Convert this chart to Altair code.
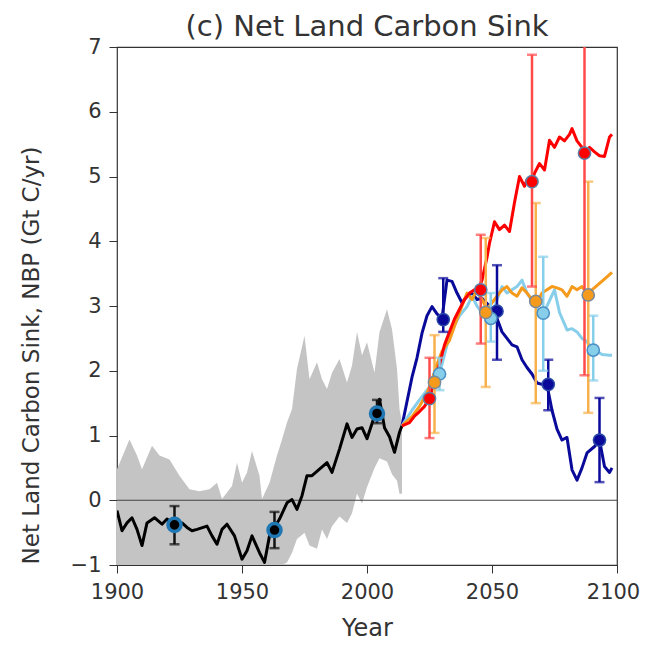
import altair as alt
import pandas as pd

# ---------------- data ----------------
title_text = "(c) Net Land Carbon Sink"

hist_year = [1900, 1902, 1904, 1906, 1908, 1910, 1912, 1915, 1918, 1920, 1923, 1926, 1928,
             1930, 1932, 1936, 1938, 1940, 1942, 1944, 1947, 1950, 1952, 1954, 1957, 1959,
             1961, 1963, 1965, 1968, 1970, 1972, 1974, 1976, 1978, 1981, 1984, 1986, 1989,
             1992, 1994, 1996, 1998, 2000, 2003, 2005, 2007, 2009, 2011, 2013, 2014]
hist_val = [-0.16, -0.47, -0.35, -0.27, -0.45, -0.70, -0.35, -0.27, -0.37, -0.29, -0.37, -0.35, -0.42,
            -0.47, -0.45, -0.40, -0.55, -0.68, -0.45, -0.37, -0.55, -0.91, -0.78, -0.55, -0.81, -0.96,
            -0.55, -0.42, -0.29, -0.04, 0.01, -0.14, 0.07, 0.38, 0.38, 0.48, 0.58, 0.43, 0.79,
            1.18, 0.97, 1.10, 1.12, 0.95, 1.30, 1.56, 1.12, 0.98, 0.74, 1.05, 1.15]

band_year = [1900, 1905, 1908, 1910, 1914, 1917, 1921, 1925, 1929, 1933, 1937, 1940, 1942, 1946,
             1948, 1950, 1952, 1954, 1957, 1958, 1961, 1964, 1966, 1968, 1970, 1972, 1975, 1977,
             1980, 1982, 1984, 1986, 1989, 1992, 1994, 1996, 1998, 2000, 2003, 2005, 2008, 2010,
             2012, 2013, 2014]
band_hi = [0.48, 0.94, 0.69, 0.48, 0.84, 0.69, 0.63, 0.38, 0.17, 0.14, 0.17, 0.27, 0.02, 0.22,
           0.58, 0.27, 0.43, 0.76, 0.38, 0.02, 0.27, 0.69, 0.94, 1.20, 1.41, 2.03, 2.54, 1.87,
           2.13, 1.87, 1.72, 1.97, 2.18, 1.82, 2.08, 2.60, 2.24, 2.44, 1.97, 2.60, 2.95, 2.64,
           2.03, 1.41, 1.20]
band_lo = [-1.5, -1.5, -1.5, -1.5, -1.5, -1.5, -1.5, -1.5, -1.5, -1.5, -1.5, -1.5, -1.5, -1.5,
           -1.5, -1.5, -1.5, -1.5, -1.5, -1.5, -1.5, -1.5, -1.5, -0.96, -0.81, -0.60, -0.50, -0.70,
           -0.75, -0.45, -0.60, -0.40, -0.25, -0.35, -0.20, 0.10, -0.05, 0.20, 0.50, 0.65, 0.60, 0.40,
           0.30, 0.10, 0.10]

hist_pt_year = [1923, 1963, 2004]
hist_pt_val = [-0.38, -0.46, 1.34]
hist_pt_lo = [-0.68, -0.74, 1.19]
hist_pt_hi = [-0.09, -0.18, 1.55]

red_year = [2014, 2017, 2019, 2021, 2023, 2025, 2027, 2029, 2031, 2033, 2035, 2037, 2039, 2041,
            2043, 2045, 2046, 2048, 2049, 2051, 2053, 2055, 2057, 2059, 2061, 2063, 2064, 2066,
            2067, 2069, 2071, 2073, 2075, 2077, 2079, 2081, 2082, 2084, 2086, 2087, 2089, 2091,
            2093, 2095, 2097, 2098]
red_val = [1.15, 1.20, 1.30, 1.37, 1.45, 1.57, 1.85, 2.10, 2.40, 2.60, 2.80, 2.95, 3.10, 3.20,
           3.25, 3.30, 3.40, 3.75, 3.97, 4.30, 4.18, 4.25, 4.15, 4.60, 5.00, 4.85, 4.95, 4.92,
           5.05, 5.20, 5.10, 5.56, 5.45, 5.61, 5.55, 5.65, 5.74, 5.55, 5.45, 5.36, 5.45, 5.38,
           5.32, 5.31, 5.61, 5.65]

orange_year = [2014, 2018, 2021, 2024, 2026, 2028, 2030, 2033, 2036, 2038, 2040, 2042, 2044, 2046,
               2048, 2050, 2052, 2054, 2056, 2058, 2060, 2062, 2064, 2066, 2068, 2070, 2072, 2074,
               2076, 2078, 2080, 2082, 2084, 2086, 2088, 2090, 2093, 2096, 2098]
orange_val = [1.15, 1.29, 1.45, 1.65, 1.86, 2.10, 2.30, 2.47, 2.80, 3.00, 3.20, 3.10, 3.25, 3.10,
              2.95, 3.05, 3.15, 3.25, 3.30, 3.20, 3.15, 3.28, 3.20, 3.10, 3.05, 3.20, 3.25, 3.30,
              3.28, 3.25, 3.15, 3.30, 3.25, 3.30, 3.20, 3.25, 3.35, 3.45, 3.52]

lblue_year = [2014, 2018, 2021, 2024, 2027, 2029, 2031, 2033, 2035, 2037, 2040, 2042, 2044, 2046,
              2048, 2050, 2052, 2054, 2056, 2058, 2060, 2062, 2064, 2066, 2068, 2070, 2072, 2075,
              2077, 2080, 2082, 2084, 2086, 2088, 2090, 2092, 2094, 2097, 2098]
lblue_val = [1.15, 1.39, 1.55, 1.70, 1.85, 1.96, 2.25, 2.55, 2.70, 2.85, 2.99, 3.15, 3.00, 2.90,
             2.82, 2.81, 3.10, 3.30, 3.20, 3.25, 3.30, 3.40, 3.20, 3.08, 2.95, 2.89, 3.00, 3.25,
             2.90, 2.63, 2.65, 2.60, 2.50, 2.45, 2.32, 2.30, 2.25, 2.24, 2.24]

dblue_year = [2014, 2018, 2020, 2022, 2024, 2026, 2028, 2030, 2032, 2034, 2036, 2038, 2040, 2042,
              2044, 2046, 2049, 2051, 2054, 2056, 2058, 2060, 2062, 2064, 2066, 2068, 2070, 2072,
              2074, 2076, 2078, 2080, 2082, 2084, 2086, 2088, 2091, 2093, 2095, 2097, 2098]
dblue_val = [1.15, 1.90, 2.20, 2.58, 2.85, 2.99, 2.88, 2.81, 3.40, 3.38, 3.20, 3.05, 3.15, 3.20,
             3.10, 3.12, 3.00, 2.91, 2.60, 2.50, 2.40, 2.37, 2.17, 2.05, 1.95, 1.81, 1.79, 1.78,
             1.39, 1.10, 0.93, 0.97, 0.47, 0.31, 0.50, 0.73, 0.83, 0.93, 0.52, 0.43, 0.50]

# scenario markers with error bars: year, value, low, high
red_pt = dict(year=[2025, 2045.5, 2066, 2087], v=[1.57, 3.25, 4.92, 5.36],
              lo=[0.96, 2.42, 3.30, 1.93], hi=[2.20, 4.10, 6.88, 8.50])
orange_pt = dict(year=[2027, 2047.5, 2067.5, 2088.5], v=[1.82, 2.90, 3.07, 3.17],
                 lo=[1.04, 1.75, 1.50, 1.35], hi=[2.55, 4.05, 4.59, 4.92])
lblue_pt = dict(year=[2029, 2049.5, 2070.5, 2090.5], v=[1.95, 2.81, 2.89, 2.32],
                lo=[1.70, 2.45, 2.00, 1.85], hi=[2.20, 3.20, 3.76, 2.85])
dblue_pt = dict(year=[2030.5, 2052, 2072.5, 2093], v=[2.79, 2.92, 1.79, 0.93],
                lo=[2.60, 2.17, 1.39, 0.28], hi=[3.43, 3.63, 2.17, 1.58])

# ---------------- styling ----------------
FONT = "DejaVu Sans"
TXT = "#333333"
RED, ORANGE, LBLUE, DBLUE = "#ff0000", "#f59a1b", "#87ceeb", "#0a0a9a"
RED_BAR, ORANGE_BAR = "#ff4a4a", "#f7b04c"

xscale = alt.Scale(domain=[1900, 2100], nice=False, zero=False)
yscale = alt.Scale(domain=[-1, 7], nice=False, zero=False, clamp=True)
xaxis = alt.Axis(values=[1900, 1950, 2000, 2050, 2100], format="d", title="Year",
                 grid=False, domain=False, tickSize=8, tickColor=TXT, labelColor=TXT,
                 labelFont=FONT, labelFontSize=21, labelPadding=8, labelFlush=False,
                 labelOffset=alt.condition("datum.value == 2100", alt.value(-4), alt.value(0)),
                 titleFont=FONT, titleFontSize=24, titleFontWeight="normal", titleColor=TXT,
                 titleX=250, titleY=70, titleBaseline="alphabetic", titleAlign="center")
yaxis = alt.Axis(values=list(range(-1, 8)), format="d",
                 title="Net Land Carbon Sink, NBP (Gt C/yr)",
                 grid=False, domain=False, tickSize=8, tickColor=TXT, labelColor=TXT,
                 labelFont=FONT, labelFontSize=21, labelPadding=8, labelFlush=False,
                 titleFont=FONT, titleFontSize=23, titleFontWeight="normal", titleColor=TXT,
                 titleAngle=270, titleX=-79, titleY=308, titleBaseline="alphabetic",
                 titleAlign="center")


def X():
    return alt.X("year:Q", scale=xscale, axis=xaxis)


def Y(field):
    return alt.Y(f"{field}:Q", scale=yscale, axis=yaxis)


band_df = pd.DataFrame({"year": band_year, "lo": band_lo, "hi": band_hi})
band = alt.Chart(band_df).mark_area(color="#c4c4c4", opacity=1, clip=True).encode(
    x=X(), y=Y("lo"), y2="hi:Q")

hist_df = pd.DataFrame({"year": hist_year, "v": hist_val})
hist_line = alt.Chart(hist_df).mark_line(color="#000000", strokeWidth=3, clip=True,
                                         strokeJoin="round").encode(x=X(), y=Y("v"))

zero_df = pd.DataFrame({"v": [0]})
zero = alt.Chart(zero_df).mark_rule(color="#444444", strokeWidth=1).encode(y=Y("v"))


def scen_line(years, vals, color):
    df = pd.DataFrame({"year": years, "v": vals})
    return alt.Chart(df).mark_line(color=color, strokeWidth=3, clip=True,
                                   strokeJoin="round").encode(x=X(), y=Y("v"))


def err_layers(pt, color, fill, stroke, size=150, sw=1.5):
    df = pd.DataFrame(pt)
    base = alt.Chart(df)
    rule = base.mark_rule(color=color, strokeWidth=2.5, clip=True).encode(
        x=X(), y=Y("lo"), y2="hi:Q")
    cap_lo = base.mark_tick(color=color, orient="horizontal", size=10, thickness=2.5,
                            clip=True).encode(x=X(), y=Y("lo"))
    cap_hi = base.transform_filter("datum.hi <= 7").mark_tick(
        color=color, orient="horizontal", size=10, thickness=2.5,
        clip=True).encode(x=X(), y=Y("hi"))
    dot = base.mark_point(shape="circle", filled=True, fill=fill, stroke=stroke,
                          strokeWidth=sw, size=size, opacity=1, clip=True).encode(
        x=X(), y=Y("v"))
    return [rule, cap_lo, cap_hi], dot


hist_pts = dict(year=hist_pt_year, v=hist_pt_val, lo=hist_pt_lo, hi=hist_pt_hi)
h_bars, h_dot = err_layers(hist_pts, "#111111", "#000000", "#1f77b4", size=170, sw=3.5)
r_bars, r_dot = err_layers(red_pt, RED_BAR, RED, "#5b7ea6")
o_bars, o_dot = err_layers(orange_pt, ORANGE_BAR, ORANGE, "#7a8a99")
l_bars, l_dot = err_layers(lblue_pt, LBLUE, LBLUE, "#4a8fc4")
d_bars, d_dot = err_layers(dblue_pt, DBLUE, DBLUE, "#2b4aa8")

title_df = pd.DataFrame({"t": [title_text]})
title = alt.Chart(title_df).mark_text(
    font=FONT, fontSize=29, color=TXT, align="center", baseline="alphabetic"
).encode(text="t:N", x=alt.value(250), y=alt.value(-11))

layers = [band, zero, hist_line,
          scen_line(dblue_year, dblue_val, DBLUE),
          scen_line(lblue_year, lblue_val, LBLUE),
          scen_line(orange_year, orange_val, ORANGE),
          scen_line(red_year, red_val, RED)]
layers += h_bars + d_bars + l_bars + o_bars + r_bars
layers += [h_dot, d_dot, l_dot, o_dot, r_dot, title]

chart = alt.layer(*layers).properties(
    width=500, height=518,
    background="white",
    autosize=alt.AutoSizeParams(type="none"),
    padding={"left": 109, "top": 39, "right": 23, "bottom": 76},
).configure_view(stroke="#333333", strokeWidth=1.2)

chart.save("out.html", embed_options={"renderer": "svg", "actions": False})
